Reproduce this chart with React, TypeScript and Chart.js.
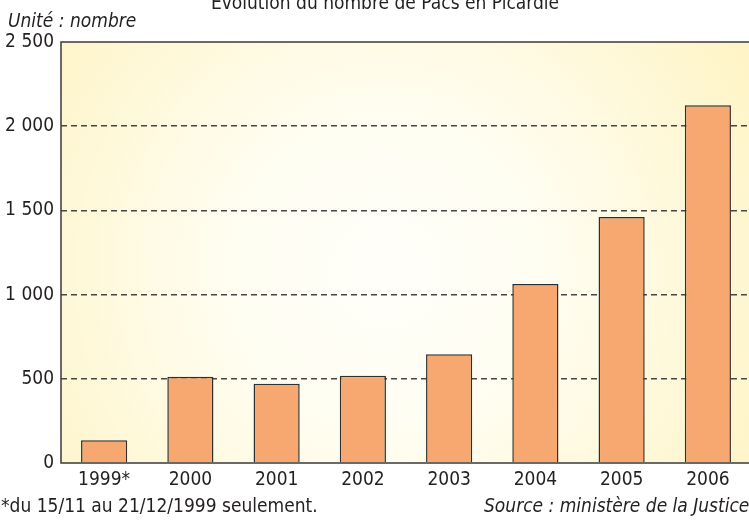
import React, { useEffect, useRef } from "react";
import { Chart, registerables } from "chart.js";

Chart.register(...registerables);

const categories = ["1999*", "2000", "2001", "2002", "2003", "2004", "2005", "2006"];
const pacsCounts = [135, 512, 470, 518, 646, 1063, 1461, 2124];
const yMin = 0;
const yMax = 2500;
const yStep = 500;
const titleText = "Évolution du nombre de Pacs en Picardie";
const unitText = "Unité : nombre";
const footnoteText = "*du 15/11 au 21/12/1999 seulement.";
const sourceText = "Source : ministère de la Justice";

const FONT = '"DejaVu Sans Condensed", "Liberation Sans Narrow", sans-serif';
const TEXT_COLOR = "#231f20";

const fmt = (v: number) =>
  v >= 1000 ? `${Math.floor(v / 1000)} ${String(v % 1000).padStart(3, "0")}` : String(v);

const decorPlugin = {
  id: "decor",
  beforeDraw(chart: any) {
    const { ctx, chartArea: a } = chart;
    ctx.save();
    const cx = (a.left + a.right) / 2 - 20;
    const cy = (a.top + a.bottom) / 2 + 20;
    const g = ctx.createRadialGradient(cx, cy, 0, cx, cy, 420);
    g.addColorStop(0, "#fffffa");
    g.addColorStop(0.4, "#fffdf0");
    g.addColorStop(1, "#fef4c6");
    ctx.fillStyle = g;
    ctx.fillRect(a.left, a.top, a.right - a.left, a.bottom - a.top);
    ctx.restore();
  },
  afterDraw(chart: any) {
    const { ctx, chartArea: a } = chart;
    ctx.save();
    ctx.strokeStyle = "#3a3a3a";
    ctx.lineWidth = 1.5;
    ctx.strokeRect(a.left, a.top, a.right - a.left, a.bottom - a.top);

    ctx.fillStyle = TEXT_COLOR;
    ctx.textBaseline = "alphabetic";
    ctx.textAlign = "center";
    ctx.font = `19px ${FONT}`;
    ctx.fillText(titleText, 385, 9);

    ctx.textAlign = "left";
    ctx.font = `italic 19px ${FONT}`;
    ctx.fillText(unitText, 8, 27);

    ctx.font = `19px ${FONT}`;
    ctx.fillText(footnoteText, 1, 512);

    ctx.font = `italic 19px ${FONT}`;
    ctx.fillText(sourceText, 484, 512);
    ctx.restore();
  },
};

export default function App() {
  const canvasRef = useRef<HTMLCanvasElement | null>(null);

  useEffect(() => {
    const canvas = canvasRef.current;
    if (!canvas) return;
    const chart = new Chart(canvas, {
      type: "bar",
      data: {
        labels: categories,
        datasets: [
          {
            data: pacsCounts,
            backgroundColor: "#f7a870",
            borderColor: "#2e2e2e",
            borderWidth: 1.5,
            categoryPercentage: 1,
            barPercentage: 0.535,
            borderSkipped: "start",
          },
        ],
      },
      options: {
        responsive: false,
        animation: false,
        layout: { padding: { top: 42, right: 9, left: 0, bottom: 0 } },
        plugins: {
          legend: { display: false },
          tooltip: { enabled: false },
          title: { display: false },
        },
        scales: {
          x: {
            grid: { display: false, drawTicks: false },
            border: { display: false },
            ticks: {
              color: TEXT_COLOR,
              font: { family: FONT, size: 19 },
              padding: 6,
              maxRotation: 0,
              autoSkip: false,
            },
            afterFit(scale: any) {
              scale.height = 57;
            },
          },
          y: {
            min: yMin,
            max: yMax,
            grid: {
              drawTicks: false,
              lineWidth: 1.5,
              color: (c: any) =>
                c.tick && (c.tick.value === yMin || c.tick.value === yMax)
                  ? "rgba(0,0,0,0)"
                  : "#474747",
            },
            border: { display: false, dash: [6, 4] },
            ticks: {
              stepSize: yStep,
              color: TEXT_COLOR,
              font: { family: FONT, size: 19 },
              padding: 7,
              callback: (v: any) => fmt(Number(v)),
            },
            afterFit(scale: any) {
              scale.width = 61;
            },
          },
        },
      },
      plugins: [decorPlugin],
    } as any);
    return () => chart.destroy();
  }, []);

  return (
    <div
      style={{
        position: "fixed",
        left: 0,
        top: 0,
        width: 749,
        height: 520,
        overflow: "hidden",
        background: "#ffffff",
      }}
    >
      <canvas ref={canvasRef} width={760} height={520} style={{ display: "block" }} />
    </div>
  );
}
